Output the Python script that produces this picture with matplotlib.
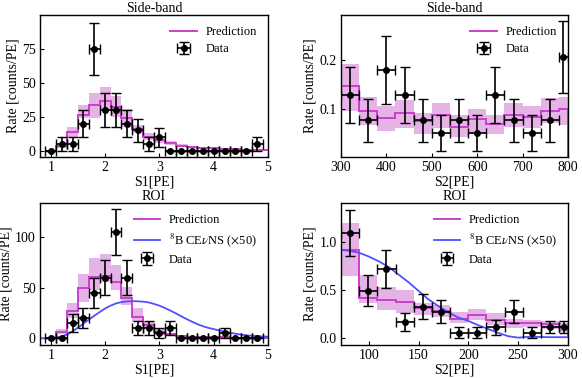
import numpy as np
import matplotlib
matplotlib.use("Agg")
import matplotlib.pyplot as plt

plt.rcParams['font.family'] = ['Liberation Serif', 'DejaVu Serif']
plt.rcParams['mathtext.fontset'] = 'stix'
plt.rcParams['font.size'] = 10

# ---------------- S1 side-band ----------------
s1_edges = [0.9, 1.1, 1.3, 1.5, 1.7, 1.9, 2.1, 2.3, 2.5, 2.7, 2.9, 3.1, 3.3, 3.5, 3.7, 3.9, 4.1, 4.3, 4.5, 4.7, 4.9, 5.1]
s1_centers = [1.0, 1.2, 1.4, 1.6, 1.8, 2.0, 2.2, 2.4, 2.6, 2.8, 3.0, 3.2, 3.4, 3.6, 3.8, 4.0, 4.2, 4.4, 4.6, 4.8]

sb_s1_pred = [0, 3.4, 14, 26, 33.5, 37, 32, 24, 16, 10, 8, 5.4, 3.7, 3, 2.2, 1.7, 1.2, 1, 0.8, 0.6, 0.5]
sb_s1_lo = [0, 2, 10.3, 23.8, 23.8, 30, 25, 17.7, 12.8, 7.9, 5.4, 4, 2.8, 2.2, 1.6, 1.2, 0.8, 0.6, 0.5, 0.4, 0.3]
sb_s1_hi = [0, 5, 17.7, 33.7, 42.8, 47, 40, 30.5, 19, 12.8, 10.3, 7, 4.8, 3.8, 2.8, 2.2, 1.6, 1.4, 1.1, 0.8, 0.7]
sb_s1_data = [0, 5, 5, 20, 75, 30, 30, 20, 15, 5, 10, 0, 0, 0, 0, 0, 0, 0, 0, 5]
sb_s1_err = [0, 5, 5, 10, 19.4, 12.2, 12.2, 10, 8.7, 5, 7.1, 0, 0, 0, 0, 0, 0, 0, 0, 5]

# ---------------- S2 side-band ----------------
sb_s2_edges = [300, 340, 380, 420, 460, 500, 540, 580, 620, 660, 700, 740, 780, 800]
sb_s2_centers = [320, 360, 400, 440, 480, 520, 560, 600, 640, 680, 720, 760, 790]
sb_s2_xerr = [20, 20, 20, 20, 20, 20, 20, 20, 20, 20, 20, 20, 10]
sb_s2_pred = [0.146, 0.095, 0.081, 0.091, 0.076, 0.088, 0.064, 0.079, 0.069, 0.088, 0.084, 0.095, 0.1]
sb_s2_lo = [0.095, 0.067, 0.056, 0.061, 0.05, 0.061, 0.044, 0.05, 0.05, 0.064, 0.061, 0.071, 0.067]
sb_s2_hi = [0.19, 0.125, 0.106, 0.118, 0.091, 0.113, 0.088, 0.1, 0.088, 0.113, 0.106, 0.122, 0.125]
sb_s2_data = [0.128, 0.077, 0.179, 0.128, 0.077, 0.051, 0.077, 0.051, 0.128, 0.077, 0.051, 0.077, 0.205]
sb_s2_err = [0.057, 0.044, 0.068, 0.057, 0.044, 0.036, 0.044, 0.036, 0.057, 0.044, 0.036, 0.044, 0.072]

# ---------------- S1 ROI ----------------
roi_s1_pred = [0, 6.6, 26.5, 49.6, 60.6, 62, 56, 39.7, 21.5, 13, 6.6, 4, 2.3, 1.6, 1.2, 1, 0.8, 0.7, 0.6, 0.5, 0.4]
roi_s1_lo = [0, 4, 19.9, 36.4, 48, 55.3, 48, 33, 16.5, 9, 3.3, 2.5, 1.5, 1, 0.8, 0.6, 0.5, 0.4, 0.3, 0.3, 0.2]
roi_s1_hi = [0, 9, 34.8, 63.6, 79.4, 83.8, 73, 50.8, 29.8, 16.5, 9, 5.5, 3.2, 2.2, 1.7, 1.4, 1.1, 1, 0.9, 0.7, 0.6]
roi_s1_data = [0, 0, 15, 20, 45, 60, 105, 60, 10, 10, 5, 10, 0, 0, 0, 0, 5, 0, 0, 0]
roi_s1_err = [0, 0, 8.7, 10, 15, 17.3, 22.9, 17.3, 7.1, 7.1, 5, 7.1, 0, 0, 0, 0, 5, 0, 0, 0]
cevns_s1_x = [0.8, 0.9, 1.0, 1.1, 1.2, 1.3, 1.4, 1.5, 1.6, 1.7, 1.8, 1.9, 2.0, 2.1, 2.2, 2.3, 2.4, 2.5, 2.6,
              2.7, 2.8, 2.9, 3.0, 3.1, 3.2, 3.3, 3.4, 3.5, 3.6, 3.7, 3.8, 3.9, 4.0, 4.1, 4.2, 4.3, 4.4, 4.5,
              4.6, 4.7, 4.8, 4.9, 5.0]
cevns_s1_y = [0, 0, 0.2, 0.8, 1.8, 3.8, 7, 10.5, 14.5, 18.5, 22.3, 26, 29.5, 32.3, 34.5, 35.8, 36.5, 36.7, 36.6,
              36.2, 35.5, 34, 32.3, 30, 27.4, 24.7, 21.8, 19, 16.4, 14, 11.9, 10.3, 9, 7.8, 6.6, 5.5, 4.5, 3.6,
              2.9, 2.4, 2.1, 1.8, 1.5]

# ---------------- S2 ROI ----------------
roi_s2_edges = [72.2, 90.45, 108.7, 126.95, 145.2, 163.45, 181.7, 199.95, 218.2, 236.45, 254.7, 272.95, 291.2, 300]
roi_s2_centers = [81.3, 99.6, 117.8, 136.1, 154.3, 172.6, 190.8, 209.1, 227.3, 245.6, 263.8, 282.1, 295.6]
roi_s2_xerr = [9.1, 9.1, 9.1, 9.1, 9.1, 9.1, 9.1, 9.1, 9.1, 9.1, 9.1, 9.1, 4.4]
roi_s2_pred = [0.92, 0.413, 0.395, 0.378, 0.308, 0.28, 0.20, 0.24, 0.19, 0.15, 0.15, 0.14, 0.115]
roi_s2_lo = [0.647, 0.36, 0.29, 0.256, 0.238, 0.22, 0.15, 0.18, 0.133, 0.105, 0.11, 0.087, 0.063]
roi_s2_hi = [1.20, 0.658, 0.53, 0.5, 0.36, 0.34, 0.27, 0.30, 0.255, 0.2, 0.19, 0.175, 0.157]
roi_s2_data = [1.094, 0.493, 0.717, 0.168, 0.325, 0.273, 0.052, 0.052, 0.108, 0.273, 0.052, 0.112, 0.11]
roi_s2_err = [0.244, 0.164, 0.197, 0.095, 0.134, 0.122, 0.055, 0.055, 0.077, 0.122, 0.055, 0.065, 0.06]
cevns_s2_x = [72, 80, 90, 100, 110, 120, 130, 140, 150, 160, 170, 180, 190, 200, 210, 220, 230, 240, 250,
              260, 270, 280, 290, 300]
cevns_s2_y = [0.92, 0.91, 0.89, 0.85, 0.80, 0.74, 0.66, 0.58, 0.49, 0.40, 0.33, 0.265, 0.21, 0.175, 0.13,
              0.09, 0.05, 0.015, 0.0, 0.008, 0.008, 0.005, 0.005, 0.005]

MAG = '#cc3fcc'
BAND = '#e2a6e2'
BLUE = '#5050ff'

fig = plt.figure(figsize=(5.82, 3.78), dpi=100)
W, H = 582, 378


def add_ax(x0, y0, x1, y1):
    return fig.add_axes([x0 / W, 1 - y1 / H, (x1 - x0) / W, (y1 - y0) / H])


axes = [add_ax(40, 15, 268, 157), add_ax(341, 15, 568, 157),
        add_ax(40, 203, 268, 345), add_ax(341, 203, 568, 345)]


def panel(ax, edges, pred, lo, hi, xc, xerr, yd, yerr, title, xlabel, cev=None):
    ax.stairs(hi, edges, baseline=lo, fill=True, color=BAND, lw=0, alpha=0.85)
    ax.stairs(pred, edges, color=MAG, lw=1.4, label='Prediction')
    if cev is not None:
        ax.plot(cev[0], cev[1], color=BLUE, lw=1.3, label=r'$^{8}$B CE$\nu$NS ($\times$50)')
    ax.errorbar(xc, yd, xerr=xerr, yerr=yerr, fmt='o', color='black', ms=4,
                elinewidth=1.2, capsize=3.5, capthick=1.0, label='Data')
    ax.set_title(title, fontsize=10, pad=2)
    ax.set_xlabel(xlabel, fontsize=10, labelpad=1)
    ax.set_ylabel('Rate [counts/PE]', fontsize=10, labelpad=2)
    ax.tick_params(direction='in', labelsize=10, length=3, pad=3)
    ax.legend(loc='upper right', frameon=False, fontsize=9, handlelength=2.1,
              handletextpad=0.7, labelspacing=0.4)
    for s in ax.spines.values():
        s.set_linewidth(1.0)


panel(axes[0], s1_edges, sb_s1_pred, sb_s1_lo, sb_s1_hi, s1_centers, 0.1, sb_s1_data, sb_s1_err,
      'Side-band', 'S1[PE]')
axes[0].set_xlim(0.8, 5.0)
axes[0].set_ylim(-4.6, 100)
axes[0].set_yticks([0, 25, 50, 75])
axes[0].set_xticks([1, 2, 3, 4, 5])

panel(axes[1], sb_s2_edges, sb_s2_pred, sb_s2_lo, sb_s2_hi, sb_s2_centers, sb_s2_xerr, sb_s2_data, sb_s2_err,
      'Side-band', 'S2[PE]')
axes[1].set_xlim(300, 800)
axes[1].set_ylim(0.003, 0.29)
axes[1].set_yticks([0.1, 0.2])

panel(axes[2], s1_edges, roi_s1_pred, roi_s1_lo, roi_s1_hi, s1_centers, 0.1, roi_s1_data, roi_s1_err,
      'ROI', 'S1[PE]', cev=(cevns_s1_x, cevns_s1_y))
axes[2].set_xlim(0.8, 5.0)
axes[2].set_ylim(-6.7, 134)
axes[2].set_yticks([0, 50, 100])
axes[2].set_xticks([1, 2, 3, 4, 5])

panel(axes[3], roi_s2_edges, roi_s2_pred, roi_s2_lo, roi_s2_hi, roi_s2_centers, roi_s2_xerr, roi_s2_data,
      roi_s2_err, 'ROI', 'S2[PE]', cev=(cevns_s2_x, cevns_s2_y))
axes[3].set_xlim(72.2, 300)
axes[3].set_ylim(-0.077, 1.41)
axes[3].set_yticks([0.0, 0.5, 1.0])
axes[3].set_xticks([100, 150, 200, 250, 300])

fig.savefig('out.png', dpi=100)
